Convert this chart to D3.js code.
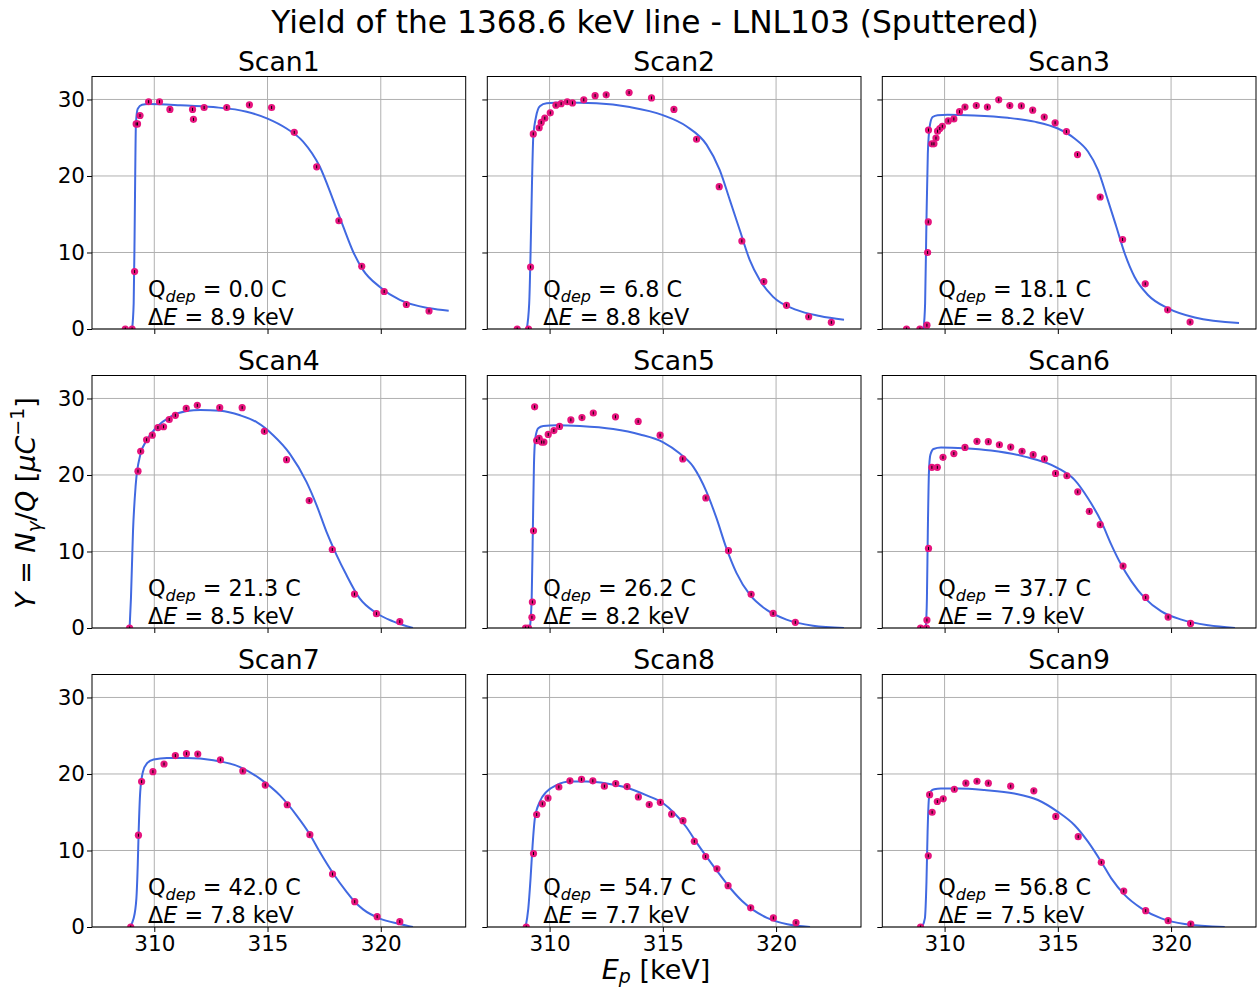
<!DOCTYPE html>
<html>
<head>
<meta charset="utf-8">
<script src="https://cdn.jsdelivr.net/npm/d3@7"></script>
<style>
  html, body { margin: 0; padding: 0; background: #ffffff; }
  svg { display: block; font-family: "DejaVu Sans", sans-serif; }
</style>
</head>
<body>
<svg id="chart" width="1258" height="988"></svg>
<script>
// ---- scan metadata ----
const scanNames = ["Scan1", "Scan2", "Scan3", "Scan4", "Scan5", "Scan6", "Scan7", "Scan8", "Scan9"];
const qDep = [0.0, 6.8, 18.1, 21.3, 26.2, 37.7, 42.0, 54.7, 56.8];     // deposited charge [C]
const deltaE = [8.9, 8.8, 8.2, 8.5, 8.2, 7.9, 7.8, 7.7, 7.5];         // target thickness [keV]
const yErr = [0.2, 0.2, 0.2, 0.2, 0.2, 0.2, 0.2, 0.2, 0.2];            // typical yield uncertainty
const xTicks = [310, 315, 320];
const yTicks = [0, 10, 20, 30];

// ---- measured yields (E_p [keV], Y [1/uC]) ----
const scan1E = [308.72, 309.02, 309.13, 309.20, 309.26, 309.37, 309.75, 310.23, 310.69, 311.69, 311.73, 312.20, 313.20, 314.20, 315.18, 316.18, 317.17, 318.15, 319.16, 320.15, 321.13, 322.13];
const scan1Y = [0, 0, 7.5, 26.8, 26.8, 27.9, 29.7, 29.7, 28.7, 28.7, 27.4, 28.95, 28.95, 29.3, 28.95, 25.7, 21.2, 14.15, 8.2, 4.9, 3.2, 2.35];

const scan2E = [308.57, 309.07, 309.16, 309.28, 309.54, 309.63, 309.79, 310.03, 310.28, 310.51, 310.78, 311.01, 311.51, 312.01, 312.50, 313.51, 314.50, 315.49, 316.49, 317.49, 318.49, 319.46, 320.46, 321.44, 322.44];
const scan2Y = [0, 0, 8.1, 25.5, 26.3, 27.0, 27.55, 28.25, 29.25, 29.45, 29.7, 29.55, 29.95, 30.5, 30.6, 30.9, 30.2, 28.7, 24.8, 18.6, 11.5, 6.2, 3.1, 1.6, 0.87];

const scan3E = [308.32, 308.91, 309.22, 309.25, 309.28, 309.29, 309.44, 309.53, 309.62, 309.69, 309.79, 309.90, 310.16, 310.41, 310.66, 310.90, 311.40, 311.89, 312.39, 312.88, 313.39, 313.89, 314.40, 314.88, 315.38, 315.87, 316.87, 317.86, 318.86, 319.85, 320.84];
const scan3Y = [0, 0, 0.5, 10.0, 14.0, 26.0, 24.2, 24.2, 24.95, 25.85, 26.2, 26.5, 27.2, 27.45, 28.4, 29.0, 29.2, 29.0, 29.95, 29.2, 29.15, 28.6, 27.7, 26.95, 25.8, 22.8, 17.25, 11.7, 5.9, 2.5, 0.9];

const scan4E = [308.91, 309.28, 309.40, 309.66, 309.91, 310.16, 310.41, 310.66, 310.93, 311.41, 311.90, 312.89, 313.88, 314.86, 315.84, 316.84, 317.86, 318.84, 319.81, 320.84];
const scan4Y = [0, 20.5, 23.1, 24.6, 25.2, 26.2, 26.3, 27.25, 27.8, 28.7, 29.1, 28.8, 28.8, 25.7, 22.0, 16.65, 10.26, 4.43, 1.87, 0.83];

const scan5E = [308.94, 309.07, 309.22, 309.24, 309.29, 309.34, 309.43, 309.54, 309.65, 309.75, 309.94, 310.19, 310.44, 310.94, 311.43, 311.93, 312.91, 313.91, 314.88, 315.88, 316.90, 317.90, 318.90, 319.87, 320.85];
const scan5Y = [0, 0, 1.4, 3.4, 12.7, 28.9, 24.5, 24.8, 24.3, 24.3, 25.3, 25.8, 26.35, 27.2, 27.5, 28.1, 27.6, 27.0, 25.2, 22.1, 17.0, 10.1, 4.4, 1.9, 0.74];

const scan6E = [308.94, 309.20, 309.22, 309.29, 309.44, 309.68, 309.93, 310.41, 310.90, 311.43, 311.93, 312.42, 312.92, 313.42, 313.91, 314.41, 314.90, 315.40, 315.88, 316.39, 316.87, 317.88, 318.88, 319.87, 320.86];
const scan6Y = [0, 0, 1.04, 10.4, 21.0, 21.0, 22.3, 22.8, 23.6, 24.4, 24.35, 23.95, 23.65, 23.1, 22.65, 22.1, 20.2, 19.9, 17.8, 15.25, 13.5, 8.1, 4.0, 1.43, 0.6];

const scan7E = [308.96, 309.30, 309.44, 309.94, 310.43, 310.93, 311.42, 311.92, 312.92, 313.91, 314.90, 315.87, 316.87, 317.87, 318.85, 319.84, 320.84];
const scan7Y = [0, 12.0, 19.0, 20.3, 21.3, 22.4, 22.65, 22.6, 21.85, 20.4, 18.55, 15.98, 12.06, 6.92, 3.31, 1.35, 0.7];

const scan8E = [308.97, 309.29, 309.43, 309.68, 309.93, 310.41, 310.90, 311.41, 311.91, 312.42, 312.92, 313.42, 313.92, 314.40, 314.89, 315.39, 315.89, 316.39, 316.89, 317.39, 317.88, 318.88, 319.88, 320.88];
const scan8Y = [0, 9.6, 14.7, 16.1, 16.85, 18.3, 19.1, 19.3, 19.1, 18.4, 18.75, 18.35, 17.0, 16.0, 16.3, 14.75, 13.9, 11.2, 9.2, 7.6, 5.4, 2.5, 1.18, 0.57];

const scan9E = [308.94, 309.28, 309.34, 309.45, 309.68, 309.94, 310.43, 310.94, 311.43, 311.93, 312.92, 313.94, 314.91, 315.90, 316.92, 317.91, 318.88, 319.87, 320.87];
const scan9Y = [0, 9.3, 17.3, 15.0, 16.4, 16.75, 18.0, 18.8, 19.05, 18.8, 18.4, 17.8, 14.45, 11.8, 8.45, 4.7, 2.13, 0.83, 0.39];

// ---- fitted yield curves ----
const fit1E = [309.02, 309.09, 309.13, 309.16, 309.19, 309.27, 309.46, 309.75, 311.15, 312.60, 314.08, 315.00, 315.84, 316.57, 317.31, 317.90, 318.34, 318.78, 319.22, 319.96, 320.84, 322.16, 323.00];
const fit1Y = [0, 3.35, 12.0, 20.8, 26.9, 28.8, 29.3, 29.4, 29.25, 29.0, 28.4, 27.5, 26.2, 24.5, 21.2, 16.85, 13.4, 10.1, 7.7, 5.5, 3.8, 2.7, 2.4];

const fit2E = [308.99, 309.10, 309.16, 309.22, 309.28, 309.40, 309.57, 309.87, 310.60, 312.07, 313.54, 315.00, 316.04, 316.93, 317.51, 317.96, 318.40, 318.84, 319.28, 319.87, 320.90, 321.93, 323.00];
const fit2Y = [0, 3.35, 9.9, 18.6, 25.1, 27.7, 29.1, 29.5, 29.6, 29.5, 29.0, 27.95, 26.5, 24.1, 20.8, 16.85, 12.9, 9.0, 6.4, 4.2, 2.5, 1.7, 1.2];

const fit3E = [309.07, 309.14, 309.20, 309.26, 309.34, 309.47, 309.69, 310.13, 311.31, 312.79, 313.97, 315.00, 315.74, 316.33, 316.77, 317.21, 317.58, 317.95, 318.39, 318.98, 319.87, 321.05, 323.00];
const fit3Y = [0, 3.35, 14.2, 22.9, 26.4, 27.7, 27.95, 28.0, 27.9, 27.6, 27.1, 26.2, 24.9, 23.2, 20.8, 16.85, 13.4, 9.9, 6.8, 4.45, 2.7, 1.5, 0.78];

const fit4E = [308.91, 308.97, 309.06, 309.18, 309.38, 309.68, 310.12, 310.70, 311.44, 312.03, 312.91, 313.79, 314.52, 315.25, 315.98, 316.72, 317.16, 317.60, 318.04, 318.48, 319.06, 319.80, 320.54, 321.42];
const fit4Y = [0, 3.9, 12.6, 18.7, 22.6, 24.6, 26.3, 27.6, 28.35, 28.5, 28.4, 27.8, 26.9, 25.2, 22.8, 19.1, 16.1, 12.6, 9.6, 6.95, 3.9, 1.96, 0.87, 0];

const fit5E = [309.13, 309.21, 309.26, 309.31, 309.37, 309.50, 309.72, 310.31, 311.34, 312.81, 313.99, 315.00, 315.75, 316.34, 316.93, 317.37, 317.81, 318.25, 318.84, 319.57, 320.46, 321.63, 323.00];
const fit5Y = [0, 3.9, 12.6, 21.3, 24.8, 26.1, 26.4, 26.5, 26.4, 26.0, 25.3, 24.3, 22.8, 21.1, 17.8, 14.35, 10.4, 7.2, 4.35, 2.4, 1.1, 0.3, 0];

const fit6E = [309.17, 309.22, 309.26, 309.31, 309.37, 309.51, 309.84, 310.87, 312.05, 313.53, 315.00, 315.74, 316.33, 316.92, 317.36, 317.80, 318.25, 318.84, 319.57, 320.46, 321.64, 322.82];
const fit6Y = [0, 3.9, 12.6, 20.4, 22.6, 23.4, 23.6, 23.5, 23.2, 22.4, 20.9, 19.35, 16.95, 13.9, 10.9, 8.26, 6.1, 3.9, 2.17, 1.09, 0.35, 0];

const fit7E = [308.91, 309.09, 309.21, 309.27, 309.31, 309.38, 309.50, 309.68, 309.97, 310.56, 311.44, 312.61, 313.79, 314.66, 315.55, 316.28, 316.87, 317.31, 317.90, 318.49, 318.85, 319.22, 319.96, 320.84, 321.42];
const fit7Y = [0, 1.13, 3.74, 8.1, 12.45, 17.7, 20.3, 21.4, 21.9, 22.1, 22.1, 21.8, 20.9, 19.4, 17.2, 14.6, 12.1, 9.8, 7.0, 4.6, 3.3, 2.3, 1.1, 0.4, 0];

const fit8E = [308.94, 309.06, 309.16, 309.25, 309.35, 309.57, 309.87, 310.31, 310.90, 311.63, 312.52, 313.40, 314.29, 315.00, 315.50, 316.00, 316.50, 317.00, 317.50, 318.00, 318.50, 319.00, 319.60, 320.50, 321.50];
const fit8Y = [0, 2.4, 6.35, 10.7, 14.2, 16.4, 17.7, 18.55, 19.0, 19.0, 18.75, 18.2, 17.2, 16.2, 14.9, 13.2, 11.0, 8.9, 6.9, 5.0, 3.4, 2.2, 1.2, 0.35, 0];

const fit9E = [309.00, 309.13, 309.20, 309.25, 309.31, 309.40, 309.54, 309.84, 310.58, 311.76, 313.08, 314.12, 315.00, 315.74, 316.33, 316.92, 317.36, 317.95, 318.69, 319.57, 320.60, 322.37];
const fit9Y = [0, 1.13, 5.9, 12.45, 16.8, 17.75, 18.0, 18.1, 18.1, 17.9, 17.45, 16.6, 15.05, 13.3, 11.15, 8.5, 6.35, 4.2, 2.44, 1.13, 0.39, 0];

const pointsE = [scan1E, scan2E, scan3E, scan4E, scan5E, scan6E, scan7E, scan8E, scan9E];
const pointsY = [scan1Y, scan2Y, scan3Y, scan4Y, scan5Y, scan6Y, scan7Y, scan8Y, scan9Y];
const fitE = [fit1E, fit2E, fit3E, fit4E, fit5E, fit6E, fit7E, fit8E, fit9E];
const fitY = [fit1Y, fit2Y, fit3Y, fit4Y, fit5Y, fit6Y, fit7Y, fit8Y, fit9Y];

// ---- layout ----
const svg = d3.select("#chart");
const colLeft = [92, 487.3, 882.3];
const rowTop = [76.5, 375.5, 674.5];
const pw = 373.7, ph = 252.5;
const fontTick = 21.5, fontTitle = 26.7, fontSup = 31.3, fontNote = 22.3, fontLabel = 27;

const x = d3.scaleLinear().domain([307.25, 323.75]).range([0, pw]);
const y = d3.scaleLinear().domain([0, 33]).range([ph, 0]);

const fitLine = d3.line()
  .x(d => x(d[0]))
  .y(d => y(d[1]))
  .curve(d3.curveMonotoneX);

const fmt1 = d3.format(".1f");

scanNames.forEach((name, i) => {
  const col = i % 3, row = Math.floor(i / 3);
  const g = svg.append("g").attr("transform", `translate(${colLeft[col]},${rowTop[row]})`);

  g.append("clipPath").attr("id", "clip" + i)
    .append("rect").attr("width", pw).attr("height", ph);

  // grid
  g.append("g").selectAll("line").data(xTicks).join("line")
    .attr("x1", d => x(d)).attr("x2", d => x(d))
    .attr("y1", 0).attr("y2", ph)
    .attr("stroke", "#b0b0b0").attr("stroke-width", 1);
  g.append("g").selectAll("line").data(yTicks).join("line")
    .attr("x1", 0).attr("x2", pw)
    .attr("y1", d => y(d)).attr("y2", d => y(d))
    .attr("stroke", "#b0b0b0").attr("stroke-width", 1);

  // axes
  const xa = g.append("g").attr("transform", `translate(0,${ph})`)
    .call(d3.axisBottom(x).tickValues(xTicks).tickSize(5).tickPadding(3)
      .tickFormat(row === 2 ? d3.format("d") : () => ""));
  const ya = g.append("g")
    .call(d3.axisLeft(y).tickValues(yTicks).tickSize(5).tickPadding(2)
      .tickFormat(col === 0 ? d3.format("d") : () => ""));
  [xa, ya].forEach(a => {
    a.select(".domain").remove();
    a.selectAll(".tick line").attr("stroke", "#000").attr("stroke-width", 1);
    a.selectAll(".tick text").attr("fill", "#000")
      .style("font-size", fontTick + "px")
      .style("font-family", "'DejaVu Sans', sans-serif");
  });
  xa.selectAll(".tick text").attr("dy", "0.76em");

  const plot = g.append("g").attr("clip-path", `url(#clip${i})`);

  // fitted curve
  const fitData = fitE[i].map((e, k) => [e, fitY[i][k]]);
  plot.append("path").datum(fitData)
    .attr("d", fitLine)
    .attr("fill", "none")
    .attr("stroke", "#4169e1")
    .attr("stroke-width", 2);

  // measured points with error bars
  const pts = pointsE[i].map((e, k) => [e, pointsY[i][k]]);
  plot.append("g").selectAll("circle").data(pts).join("circle")
    .attr("cx", d => x(d[0])).attr("cy", d => y(d[1]))
    .attr("r", 3.6)
    .attr("fill", "#e6147e");
  plot.append("g").selectAll("line").data(pts).join("line")
    .attr("x1", d => x(d[0])).attr("x2", d => x(d[0]))
    .attr("y1", d => y(d[1] - yErr[i])).attr("y2", d => y(d[1] + yErr[i]))
    .attr("stroke", "#000").attr("stroke-width", 1);

  // frame
  g.append("rect").attr("width", pw).attr("height", ph)
    .attr("fill", "none").attr("stroke", "#000").attr("stroke-width", 1);

  // panel title
  g.append("text")
    .attr("x", pw / 2).attr("y", -6)
    .attr("text-anchor", "middle")
    .style("font-size", fontTitle + "px")
    .text(name);

  // annotation
  const t1 = g.append("text").attr("x", 56).attr("y", ph - 32).style("font-size", fontNote + "px");
  t1.append("tspan").text("Q");
  t1.append("tspan").attr("dy", 5).style("font-size", "16px").style("font-style", "italic").text("dep");
  t1.append("tspan").attr("dy", -5).text(" = " + fmt1(qDep[i]) + " C");

  const t2 = g.append("text").attr("x", 56).attr("y", ph - 4).style("font-size", fontNote + "px");
  t2.append("tspan").text("\u0394");
  t2.append("tspan").style("font-style", "italic").text("E");
  t2.append("tspan").text(" = " + fmt1(deltaE[i]) + " keV");
});

// figure title
svg.append("text")
  .attr("x", 655).attr("y", 33)
  .attr("text-anchor", "middle")
  .style("font-size", fontSup + "px")
  .text("Yield of the 1368.6 keV line - LNL103 (Sputtered)");

// x label
const xl = svg.append("text")
  .attr("x", 656).attr("y", 979)
  .attr("text-anchor", "middle")
  .style("font-size", fontLabel + "px");
xl.append("tspan").style("font-style", "italic").text("E");
xl.append("tspan").attr("dy", 4).style("font-style", "italic").style("font-size", "19px").text("p");
xl.append("tspan").attr("dy", -4).text(" [keV]");

// y label
const yl = svg.append("text")
  .attr("transform", "translate(35,503) rotate(-90)")
  .attr("text-anchor", "middle")
  .style("font-size", fontLabel + "px");
yl.append("tspan").style("font-style", "italic").text("Y");
yl.append("tspan").text(" = ");
yl.append("tspan").style("font-style", "italic").text("N");
yl.append("tspan").attr("dy", 6).style("font-style", "italic").style("font-size", "19px").text("\u03B3");
yl.append("tspan").attr("dy", -6).text("/");
yl.append("tspan").style("font-style", "italic").text("Q");
yl.append("tspan").text(" [");
yl.append("tspan").style("font-style", "italic").text("\u03BCC");
yl.append("tspan").attr("dy", -11).style("font-size", "19px").text("\u22121");
yl.append("tspan").attr("dy", 11).text("]");
</script>
</body>
</html>
